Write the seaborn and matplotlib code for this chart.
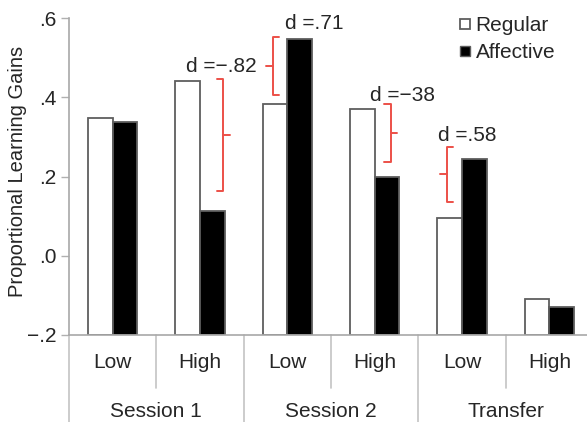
import matplotlib
matplotlib.use("Agg")
import matplotlib.pyplot as plt
from matplotlib.lines import Line2D
import pandas as pd
import seaborn as sns

# data
sessions = ["Session 1", "Session 2", "Transfer"]
levels = ["Low", "High"]
regular = [0.348, 0.442, 0.383, 0.371, 0.096, -0.110]
affective = [0.338, 0.114, 0.548, 0.198, 0.244, -0.130]
y_ticks = [-0.2, 0.0, 0.2, 0.4, 0.6]
y_tick_labels = ["\u2212.2", ".0", ".2", ".4", ".6"]

# effect size notes (label, x, y) and the red braces next to them
d_labels = ["d =\u2212.82", "d =.71", "d =\u221238", "d =.58"]
d_x = [1.24, 2.31, 3.32, 4.06]
d_y = [0.478, 0.586, 0.405, 0.303]
brace_x = [1.267, 1.833, 3.185, 3.826]
brace_top = [0.447, 0.554, 0.384, 0.274]
brace_bottom = [0.163, 0.407, 0.236, 0.137]
brace_dir = [1, -1, 1, -1]

baseline = -0.2
conds = [f"{s} {l}" for s in sessions for l in levels]
df = pd.DataFrame({
    "cond": conds * 2,
    "group": ["Regular"] * 6 + ["Affective"] * 6,
    "gain": regular + affective,
})
df["height"] = df["gain"] - baseline

sns.set_theme(style="white")
plt.rcParams["font.family"] = ["Liberation Sans", "DejaVu Sans"]
fs = 15

fig = plt.figure(figsize=(5.87, 4.22), dpi=100)
ax = fig.add_axes([69 / 587, 1 - 335 / 422, 524 / 587, 316.7 / 422])

sns.barplot(
    data=df, x="cond", y="height", hue="group", order=conds,
    hue_order=["Regular", "Affective"],
    palette={"Regular": "white", "Affective": "black"},
    width=0.566, edgecolor="#5e5e5e", linewidth=1.3,
    bottom=baseline, legend=False, ax=ax,
)

ax.set_ylim(-0.2, 0.6)
ax.set_xlim(-0.5, 5.5)
ax.set_yticks(y_ticks, labels=y_tick_labels, fontsize=fs)
ax.set_xticks([])
ax.set_xlabel("")
ax.set_ylabel("")
ax.tick_params(axis="y", left=True, length=6, width=1, color="#b0b0b0", pad=3)
for side in ["top", "right"]:
    ax.spines[side].set_visible(False)
for side in ["left", "bottom"]:
    ax.spines[side].set_color("#a8a8a8")
    ax.spines[side].set_linewidth(1.2)

fig.text(17.5 / 587, 1 - 171.5 / 422, "Proportional Learning Gains",
         rotation=90, ha="center", va="center", fontsize=14.5)

# two-level category axis
tr = ax.get_xaxis_transform()
for i, c in enumerate(conds):
    ax.text(i, -0.088, c.split()[-1], transform=tr, ha="center", va="center",
            fontsize=fs, clip_on=False)
for j, s in enumerate(sessions):
    ax.text(2 * j + 0.5, -0.243, s, transform=tr, ha="center", va="center",
            fontsize=fs, clip_on=False)
for k in range(7):
    x = k - 0.5
    y_end = -0.3 if k % 2 == 0 else -0.167
    ax.add_line(Line2D([x, x], [0, y_end], transform=tr, color="#c4c4c4",
                       lw=1.2, clip_on=False))

# braces and d values
red = "#ec5048"
h = 0.075
for x, t, b, dr in zip(brace_x, brace_top, brace_bottom, brace_dir):
    m = (t + b) / 2
    ax.plot([x - dr * h, x, x, x - dr * h], [t, t, b, b], color=red, lw=1.4,
            solid_joinstyle="round", solid_capstyle="round")
    ax.plot([x, x + dr * h], [m, m], color=red, lw=1.4, solid_capstyle="round")
for lab, x, y in zip(d_labels, d_x, d_y):
    ax.text(x, y, lab, ha="center", va="center", fontsize=fs)

handles = [
    Line2D([], [], ls="none", marker="s", markersize=7.5, markerfacecolor="white",
           markeredgecolor="#5e5e5e", markeredgewidth=1.3, label="Regular"),
    Line2D([], [], ls="none", marker="s", markersize=7.5, markerfacecolor="black",
           markeredgecolor="#5e5e5e", markeredgewidth=1.0, label="Affective"),
]
fig.legend(handles=handles, loc="upper left", bbox_to_anchor=(459 / 587, 1 - 16 / 422),
           frameon=False, fontsize=fs, handlelength=0.55, handletextpad=0.25,
           borderpad=0, borderaxespad=0, labelspacing=0.38)

fig.savefig("out.png", dpi=100)
